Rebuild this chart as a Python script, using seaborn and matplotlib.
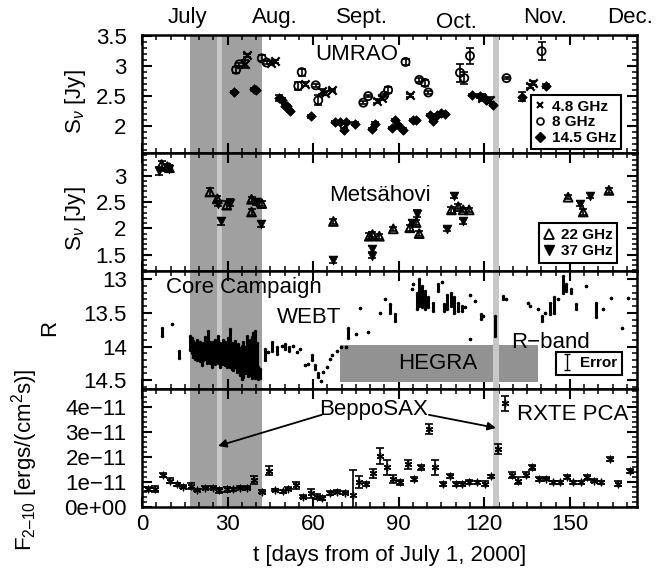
import numpy as np
import pandas as pd
import matplotlib
matplotlib.use("Agg")
import matplotlib.pyplot as plt
import matplotlib.transforms as mtransforms
from matplotlib.lines import Line2D
from matplotlib.ticker import MultipleLocator, FixedLocator, FixedFormatter
import seaborn as sns

# ---------------- data ----------------
months = ["July", "Aug.", "Sept.", "Oct.", "Nov.", "Dec."]
month_day = [15.8, 46.6, 77.0, 110.3, 141.3, 171.0]

# UMRAO radio, S_nu [Jy]
u48_day = [36.1, 36.7, 45.1, 46.8, 57.1, 63.0, 64.1, 66.5, 82.3, 84.0, 93.9, 119.1, 122.0, 136.0, 137.2]
u48_s = [3.04, 3.18, 3.06, 3.08, 2.70, 2.58, 2.55, 2.60, 2.42, 2.47, 2.51, 2.47, 2.43, 2.67, 2.72]
u48_err = [0.07, 0.03, 0.02, 0.02, 0.03, 0.04, 0.03, 0.02, 0.03, 0.03, 0.02, 0.06, 0.05, 0.03, 0.03]

u8_day = [33.0, 34.1, 42.0, 43.7, 54.8, 56.0, 60.9, 61.8, 77.6, 79.3, 84.9, 86.3, 92.4, 97.2, 99.2,
          100.4, 111.5, 113.0, 115.0, 127.8, 140.1]
u8_s = [2.94, 3.03, 3.13, 3.06, 2.67, 2.90, 2.68, 2.43, 2.39, 2.50, 2.51, 2.60, 3.07, 2.77, 2.72,
        2.56, 2.89, 2.80, 3.17, 2.80, 3.25]
u8_err = [0.05, 0.03, 0.05, 0.02, 0.07, 0.06, 0.02, 0.08, 0.02, 0.02, 0.03, 0.05, 0.05, 0.03, 0.05,
          0.02, 0.15, 0.10, 0.13, 0.02, 0.15]

u145_day = [32.2, 39.3, 40.0, 48.0, 49.0, 50.1, 50.7, 51.9, 59.2, 67.6, 69.4, 70.8, 71.7, 74.7, 80.5,
            81.7, 87.5, 88.7, 89.8, 91.6, 95.1, 96.2, 100.9, 102.1, 103.3, 105.0, 106.2, 115.6,
            118.5, 120.6, 123.1, 133.1, 141.5]
u145_s = [2.57, 2.61, 2.60, 2.47, 2.44, 2.34, 2.33, 2.25, 2.16, 2.07, 2.07, 1.94, 2.07, 2.04, 1.95,
          2.04, 1.97, 2.10, 2.01, 1.94, 2.10, 2.10, 2.18, 2.08, 2.18, 2.22, 2.20, 2.52,
          2.50, 2.44, 2.35, 2.49, 2.67]
u145_err = [0.02, 0.02, 0.02, 0.05, 0.02, 0.03, 0.02, 0.02, 0.03, 0.02, 0.02, 0.02, 0.02, 0.02, 0.02,
            0.02, 0.02, 0.02, 0.02, 0.02, 0.02, 0.02, 0.02, 0.02, 0.02, 0.02, 0.02, 0.02,
            0.04, 0.03, 0.02, 0.08, 0.03]

# Metsahovi, S_nu [Jy]
m22_day = [6.9, 8.9, 9.6, 23.8, 26.4, 29.7, 38.4, 38.4, 42.0, 67.1, 79.7, 80.8, 83.2, 88.1, 93.9,
           96.1, 97.2, 108.5, 110.9, 112.6, 114.7, 149.4, 154.7, 163.7]
m22_s = [3.21, 3.17, 3.15, 2.69, 2.56, 2.44, 2.55, 2.31, 2.47, 2.13, 1.85, 1.88, 1.85, 1.99, 2.01,
         2.11, 1.90, 2.35, 2.41, 2.35, 2.35, 2.59, 2.31, 2.72]
m22_err = [0.06, 0.05, 0.05, 0.08, 0.05, 0.07, 0.05, 0.05, 0.04, 0.04, 0.06, 0.05, 0.05, 0.04, 0.06,
           0.05, 0.05, 0.05, 0.05, 0.04, 0.04, 0.04, 0.05, 0.05]

m37_day = [6.1, 9.5, 26.8, 27.6, 30.8, 39.8, 41.7, 67.1, 80.8, 80.8, 94.8, 96.5, 106.8, 109.4, 112.6,
           153.5, 157.0]
m37_s = [3.09, 3.12, 2.47, 2.13, 2.49, 2.50, 2.08, 1.40, 1.61, 1.48, 2.10, 2.28, 1.99, 2.62, 2.13,
         2.47, 2.62]
m37_err = [0.08, 0.05, 0.04, 0.06, 0.06, 0.05, 0.05, 0.05, 0.06, 0.05, 0.05, 0.06, 0.04, 0.05, 0.05,
           0.05, 0.05]

# WEBT R-band: nightly range of magnitudes (top = brightest, bot = faintest)
r_day = [6.9, 10.4, 13.1,
         16.8, 17.4, 18.0, 18.6, 19.2, 19.8, 20.3, 20.9, 21.5, 22.1, 22.7, 23.3, 23.8, 24.4, 25.0,
         25.6, 26.2, 26.8, 27.3, 27.9, 28.5, 29.1, 29.7, 30.3, 30.8, 31.4, 32.0, 32.6, 33.2, 33.8,
         34.4, 34.9, 35.5, 36.1, 36.7, 37.3, 37.8, 38.4, 39.0, 39.6, 40.2, 40.8, 41.4,
         43.1, 44.3, 45.5, 47.2, 49.0, 50.1, 51.6, 53.0, 54.2, 55.4, 57.1, 58.3, 59.5, 60.6, 61.8,
         62.6, 63.6, 64.7, 65.9, 66.5, 68.2, 69.6, 71.5, 72.3, 75.2, 76.4, 79.3, 83.4, 85.2, 86.9,
         88.7, 94.5, 95.1, 96.3, 97.2, 98.3, 99.2, 100.4, 102.1, 103.9, 105.1, 105.8, 106.8, 108.2,
         109.4, 110.9, 112.1, 113.2, 115.0, 115.0, 116.7, 119.0, 119.6, 123.7, 126.6, 127.6, 135.4,
         136.0, 138.9, 140.1, 141.3, 143.0, 144.4, 145.9, 147.7, 148.8, 150.3, 152.3, 155.6, 159.2,
         161.6, 164.5, 168.4, 170.4]
r_top = [13.73, 13.67, 14.07,
         13.85, 13.88, 13.92, 13.95, 13.90, 13.96, 13.93, 13.99, 13.95, 13.86, 13.98, 13.77, 13.94, 13.99, 13.93,
         13.90, 13.96, 13.84, 13.95, 13.98, 13.90, 13.93, 14.00, 13.88, 13.74, 13.95, 13.98, 13.92, 14.00, 13.96,
         14.02, 13.99, 13.94, 14.00, 13.84, 13.96, 13.90, 13.86, 13.80, 13.77, 13.95, 14.30, 14.33,
         14.03, 14.08, 13.94, 14.01, 13.99, 13.96, 14.01, 13.99, 14.08, 14.03, 14.28, 14.26, 14.13, 14.28, 14.40,
         14.51, 14.38, 14.30, 14.18, 14.13, 14.06, 14.01, 14.01, 13.73, 13.82, 13.43, 13.79, 13.50, 13.30, 13.37,
         13.52, 13.15, 13.08, 13.20, 13.00, 13.10, 13.18, 13.27, 13.35, 13.08, 13.04, 13.37, 13.23, 13.20,
         13.27, 13.35, 13.40, 13.42, 13.23, 13.89, 13.32, 13.52, 13.55, 13.55, 13.25, 13.30, 13.35,
         13.40, 13.45, 13.55, 13.50, 13.35, 13.27, 13.30, 12.96, 13.08, 13.15, 13.37, 13.10, 13.35,
         13.45, 13.28, 13.72, 13.28]
r_bot = [13.85, 13.67, 14.17,
         14.05, 14.10, 14.15, 14.18, 14.20, 14.15, 14.22, 14.28, 14.20, 14.18, 14.25, 14.22, 14.24, 14.30, 14.22,
         14.26, 14.22, 14.25, 14.30, 14.26, 14.24, 14.28, 14.30, 14.25, 14.30, 14.33, 14.35, 14.30, 14.38, 14.36,
         14.42, 14.48, 14.45, 14.40, 14.38, 14.44, 14.42, 14.47, 14.40, 14.46, 14.44, 14.48, 14.46,
         14.20, 14.08, 14.06, 14.11, 13.99, 14.03, 14.06, 13.99, 14.08, 14.03, 14.28, 14.26, 14.20, 14.33, 14.45,
         14.51, 14.38, 14.30, 14.18, 14.13, 14.06, 14.01, 14.01, 13.87, 13.82, 13.43, 13.79, 13.50, 13.30, 13.50,
         13.62, 13.15, 13.08, 13.45, 13.40, 13.42, 13.45, 13.42, 13.47, 13.18, 13.04, 13.47, 13.45, 13.40,
         13.50, 13.47, 13.47, 13.42, 13.23, 13.89, 13.32, 13.59, 13.55, 13.84, 13.30, 13.30, 13.35,
         13.40, 13.45, 13.62, 13.50, 13.52, 13.50, 13.30, 13.20, 13.18, 13.20, 13.45, 13.10, 13.56,
         13.45, 13.28, 13.72, 13.28]

# RXTE PCA, F(2-10 keV) in units of 1e-11 ergs/(cm^2 s)
x_day = [2.2, 4.6, 7.2, 9.8, 12.2, 14.3, 17.1, 19.2, 22.1, 25.0, 27.1, 29.7, 32.0, 34.4, 36.7, 39.3,
         42.0, 44.6, 46.6, 49.3, 51.3, 53.9, 56.5, 59.1, 61.4, 63.0, 66.0, 68.5, 71.1, 73.9, 76.2,
         78.4, 80.9, 83.4, 86.0, 88.1, 90.4, 93.1, 95.3, 97.8, 100.6, 102.7, 105.6, 108.0, 110.1,
         112.3, 114.7, 117.3, 120.2, 122.3, 124.9, 127.2, 129.9, 131.9, 134.8, 136.6, 139.3, 141.8,
         144.2, 146.5, 149.1, 151.2, 153.8, 156.1, 158.4, 160.8, 164.0, 167.0, 171.0]
x_flux = [0.70, 0.73, 1.28, 1.05, 0.90, 0.80, 0.84, 0.67, 0.77, 0.77, 0.67, 0.70, 0.70, 0.77, 0.77, 1.08,
          0.60, 1.45, 0.67, 0.63, 0.73, 0.86, 0.41, 0.54, 0.41, 0.35, 0.54, 0.60, 0.57, 0.47, 0.99,
          0.90, 1.34, 2.03, 1.58, 1.12, 0.99, 1.71, 1.12, 1.58, 3.09, 1.58, 0.93, 1.25, 0.90,
          0.93, 0.99, 0.99, 0.93, 1.22, 2.30, 4.13, 1.28, 1.05, 1.28, 1.58, 1.10, 1.12,
          0.99, 0.99, 1.18, 0.99, 0.99, 1.18, 1.05, 0.99, 1.90, 0.93, 1.45]
x_err = [0.08, 0.12, 0.08, 0.10, 0.06, 0.06, 0.12, 0.05, 0.06, 0.06, 0.10, 0.10, 0.06, 0.06, 0.06, 0.15,
         0.06, 0.18, 0.05, 0.06, 0.06, 0.15, 0.06, 0.18, 0.10, 0.08, 0.08, 0.06, 0.06, 1.00, 0.25,
         0.08, 0.18, 0.30, 0.30, 0.15, 0.10, 0.18, 0.08, 0.10, 0.20, 0.30, 0.08, 0.08, 0.08,
         0.08, 0.08, 0.06, 0.10, 0.06, 0.20, 0.30, 0.12, 0.15, 0.10, 0.10, 0.08, 0.06,
         0.06, 0.06, 0.08, 0.06, 0.06, 0.10, 0.06, 0.06, 0.08, 0.10, 0.08]

x_ticks = [0, 30, 60, 90, 120, 150]
f_ticks = [0, 1, 2, 3, 4]
f_ticklabels = ["0e+00", "1e\u221211", "2e\u221211", "3e\u221211", "4e\u221211"]

# ---------------- style ----------------
sns.set_theme(style="ticks")
plt.rcParams["font.family"] = ["Liberation Sans", "DejaVu Sans"]
plt.rcParams["mathtext.fontset"] = "custom"
plt.rcParams["mathtext.rm"] = "Liberation Sans"
plt.rcParams["mathtext.it"] = "Liberation Sans:italic"
plt.rcParams["mathtext.bf"] = "Liberation Sans:bold"
for k in ["xtick.color", "ytick.color", "axes.edgecolor", "text.color", "axes.labelcolor"]:
    plt.rcParams[k] = "black"

FS = 16
CORE = "#a0a0a0"
LIGHT = "#c8c8c8"
HEGRA = "#929292"

fig = plt.figure(figsize=(6.62, 5.69), dpi=100)
gs = fig.add_gridspec(4, 1, left=0.2145, right=0.962, top=0.9385, bottom=0.109, hspace=0)
axes = [fig.add_subplot(gs[i]) for i in range(4)]

for i, ax in enumerate(axes):
    ax.set_xlim(0, 173.5)
    ax.axvspan(17, 42, color=CORE, lw=0, zorder=0.5)
    ax.axvspan(26.2, 27.9, color=LIGHT, lw=0, zorder=0.7)
    ax.axvspan(123.1, 125.1, color=LIGHT, lw=0, zorder=0.7)
    ax.xaxis.set_major_locator(FixedLocator(x_ticks))
    ax.xaxis.set_minor_locator(MultipleLocator(5))
    ax.tick_params(which="both", direction="in", top=True, right=True,
                   labelsize=FS, colors="black")
    ax.tick_params(axis="y", which="both", pad=11)
    ax.tick_params(axis="x", which="both", pad=5)
    ax.tick_params(which="major", length=7, width=1.5)
    ax.tick_params(which="minor", length=3.5, width=1.1)
    for sp in ax.spines.values():
        sp.set_linewidth(1.8)
        sp.set_color("black")
        sp.set_zorder(5)
    if i < 3:
        ax.tick_params(labelbottom=False)
    ax.set_xlabel("")
    ax.set_ylabel("")

eb_kw = dict(fmt="none", ecolor="black", elinewidth=1.2, capsize=3, capthick=1.2, zorder=2)

# ---- panel 1: UMRAO ----
ax = axes[0]
ax.errorbar(u48_day, u48_s, yerr=u48_err, **eb_kw)
ax.errorbar(u8_day, u8_s, yerr=u8_err, **eb_kw)
ax.errorbar(u145_day, u145_s, yerr=u145_err, **eb_kw)
sns.scatterplot(x=u48_day, y=u48_s, marker="x", color="black", s=36, linewidth=1.6, ax=ax, zorder=3)
sns.scatterplot(x=u8_day, y=u8_s, marker="o", facecolor="none", edgecolor="black", s=34,
                linewidth=1.3, ax=ax, zorder=3)
sns.scatterplot(x=u145_day, y=u145_s, marker="D", color="black", edgecolor="black", s=24,
                linewidth=0.5, ax=ax, zorder=3)
ax.set_ylim(1.55, 3.52)
ax.yaxis.set_major_locator(FixedLocator([2, 2.5, 3, 3.5]))
ax.yaxis.set_major_formatter(FixedFormatter(["2", "2.5", "3", "3.5"]))
ax.yaxis.set_minor_locator(MultipleLocator(0.1))
ax.text(75.3, 3.2, "UMRAO", fontsize=FS, ha="center", va="center")
h1 = [Line2D([], [], ls="none", marker="x", color="black", ms=5, mew=1.5),
      Line2D([], [], ls="none", marker="o", mfc="none", mec="black", ms=5, mew=1.2),
      Line2D([], [], ls="none", marker="D", color="black", ms=5)]
leg = ax.legend(h1, ["4.8 GHz", "8 GHz", "14.5 GHz"], loc="lower right",
                bbox_to_anchor=(0.968, 0.03), prop=dict(weight="bold", size=11),
                frameon=True, fancybox=False, edgecolor="black", framealpha=1,
                borderpad=0.3, handlelength=0.7, handletextpad=0.4, labelspacing=0.1,
                borderaxespad=0)
leg.get_frame().set_linewidth(1.5)

trans = mtransforms.blended_transform_factory(ax.transData, ax.transAxes)
for name, d in zip(months, month_day):
    yy = 1.059 if name == "Oct." else 1.10
    ax.text(d, yy, name, transform=trans, fontsize=FS, ha="center", va="baseline")

# ---- panel 2: Metsahovi ----
ax = axes[1]
ax.errorbar(m22_day, m22_s, yerr=m22_err, **eb_kw)
ax.errorbar(m37_day, m37_s, yerr=m37_err, **eb_kw)
sns.scatterplot(x=m22_day, y=m22_s, marker="^", facecolor="none", edgecolor="black", s=40,
                linewidth=1.4, ax=ax, zorder=3)
sns.scatterplot(x=m37_day, y=m37_s, marker="v", color="black", edgecolor="black", s=40,
                linewidth=0.5, ax=ax, zorder=3)
ax.set_ylim(1.19, 3.43)
ax.yaxis.set_major_locator(FixedLocator([1.5, 2, 2.5, 3]))
ax.yaxis.set_major_formatter(FixedFormatter(["1.5", "2", "2.5", "3"]))
ax.yaxis.set_minor_locator(MultipleLocator(0.1))
ax.text(83.4, 2.63, "Mets\u00e4hovi", fontsize=FS, ha="center", va="center")
h2 = [Line2D([], [], ls="none", marker="^", mfc="none", mec="black", ms=6.5, mew=1.3),
      Line2D([], [], ls="none", marker="v", color="black", ms=6.5)]
leg = ax.legend(h2, ["22 GHz", "37 GHz"], loc="lower right",
                bbox_to_anchor=(0.96, 0.07), prop=dict(weight="bold", size=11),
                frameon=True, fancybox=False, edgecolor="black", framealpha=1,
                borderpad=0.3, handlelength=0.7, handletextpad=0.4, labelspacing=0.15,
                borderaxespad=0)
leg.get_frame().set_linewidth(1.5)

# ---- panel 3: WEBT R band ----
ax = axes[2]
ax.fill_between([69.4, 138.9], 13.985, 14.525, color=HEGRA, lw=0, zorder=0.6)
ax.vlines(r_day, r_top, r_bot, color="black", lw=2.2, zorder=3)
sns.scatterplot(x=r_day + r_day, y=r_top + r_bot, color="black", s=6, linewidth=0,
                ax=ax, zorder=3)
ax.set_ylim(14.63, 12.88)
ax.yaxis.set_major_locator(FixedLocator([13, 13.5, 14, 14.5]))
ax.yaxis.set_major_formatter(FixedFormatter(["13", "13.5", "14", "14.5"]))
ax.yaxis.set_minor_locator(MultipleLocator(0.1))
ax.text(8.4, 13.13, "Core Campaign", fontsize=FS, ha="left", va="center", zorder=4)
ax.text(47.3, 13.57, "WEBT", fontsize=FS, ha="left", va="center", zorder=4)
ax.text(103.6, 14.25, "HEGRA", fontsize=FS, ha="center", va="center", zorder=4)
ax.text(143.3, 13.94, "R\u2212band", fontsize=FS, ha="center", va="center", zorder=4)
eh = ax.errorbar([np.nan], [np.nan], yerr=[0.1], fmt="none", ecolor="black",
                 elinewidth=1.0, capsize=2, capthick=1.0)
leg = ax.legend([eh], ["Error"], loc="lower right", bbox_to_anchor=(0.97, 0.12),
                prop=dict(weight="bold", size=11), frameon=True, fancybox=False,
                edgecolor="black", framealpha=1, borderpad=0.3, handlelength=0.8,
                handletextpad=0.5, borderaxespad=0)
leg.get_frame().set_linewidth(1.5)

# ---- panel 4: RXTE PCA ----
ax = axes[3]
ax.errorbar(x_day, x_flux, yerr=x_err, **eb_kw)
sns.scatterplot(x=x_day, y=x_flux, marker=(6, 2, 0), color="black", s=22, linewidth=1.0,
                ax=ax, zorder=3)
ax.set_ylim(0, 4.7)
ax.yaxis.set_major_locator(FixedLocator(f_ticks))
ax.yaxis.set_major_formatter(FixedFormatter(f_ticklabels))
ax.yaxis.set_minor_locator(MultipleLocator(0.2))
ax.xaxis.set_major_formatter(FixedFormatter([str(t) for t in x_ticks]))
ax.text(81.1, 3.87, "BeppoSAX", fontsize=FS, ha="center", va="center", zorder=4)
ax.text(151.0, 3.67, "RXTE PCA", fontsize=FS, ha="center", va="center", zorder=4)
arr = dict(arrowstyle="-|>", color="black", lw=1.3, mutation_scale=12, shrinkA=0, shrinkB=0)
ax.annotate("", xy=(26.7, 2.43), xytext=(63.0, 3.67), arrowprops=arr, zorder=4)
ax.annotate("", xy=(124.1, 3.15), xytext=(100.6, 3.67), arrowprops=arr, zorder=4)

# ---- axis labels ----
W, H = 662.0, 569.0
fig.text(389.5 / W, 1 - 556 / H, "t [days from of July 1, 2000]", fontsize=FS,
         ha="center", va="center")
fig.text(75 / W, 1 - 102 / H, "S$_\\nu$ [Jy]", fontsize=FS, rotation=90, ha="center", va="center")
fig.text(75 / W, 1 - 219 / H, "S$_\\nu$ [Jy]", fontsize=FS, rotation=90, ha="center", va="center")
fig.text(50 / W, 1 - 328 / H, "R", fontsize=FS, rotation=90, ha="center", va="center")
fig.text(25 / W, 1 - 460 / H, "F$_{2\u201310}$ [ergs/(cm$^2$s)]", fontsize=FS, rotation=90,
         ha="center", va="center")

fig.savefig("out.png", dpi=100)
